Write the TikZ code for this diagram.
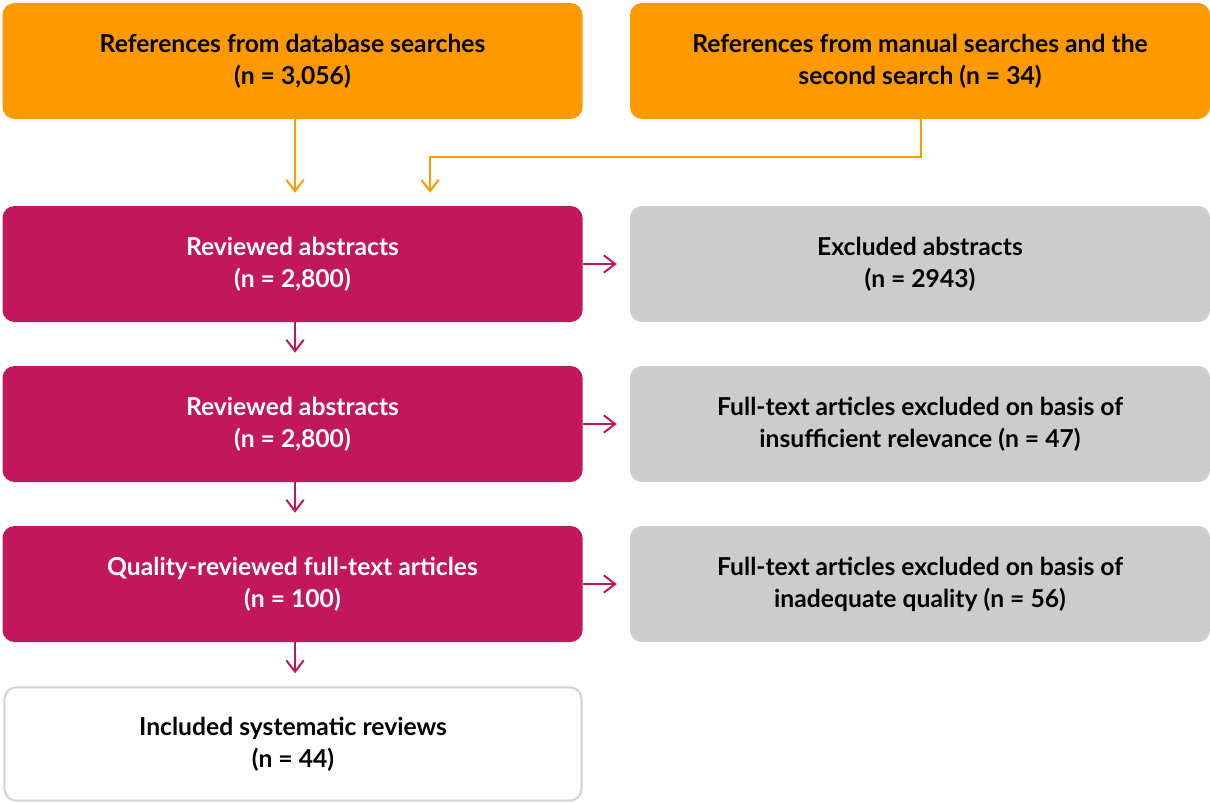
\documentclass[tikz,border=0pt]{standalone}
\usepackage{fontspec}
\setmainfont{Lato}
\usetikzlibrary{arrows.meta}
\definecolor{srcorange}{HTML}{FF9900}
\definecolor{revmagenta}{HTML}{C2185B}
\definecolor{exgrey}{HTML}{CCCCCC}
\definecolor{inborder}{HTML}{D2D2D2}
\tikzset{
  box/.style={rounded corners=9pt, minimum width=435pt, minimum height=87pt,
    align=center, inner sep=0pt, font=\fontsize{18.5}{24}\selectfont\bfseries,
    execute at begin node=\rule{0pt}{22pt}},
  srcbox/.style={box, fill=srcorange, text=black},
  revbox/.style={box, fill=revmagenta, text=white},
  exbox/.style={box, fill=exgrey, text=black},
  inbox/.style={box, draw=inborder, line width=1.5pt, fill=white,
    minimum width=433pt, minimum height=85pt},
  flow/.style={-{Straight Barb[length=8.5pt,width=13pt]}, line width=1.5pt,
    shorten >=9.75pt}
}
\begin{document}
\begin{tikzpicture}[x=0.75pt,y=-0.75pt]
  \useasboundingbox (0,0) rectangle (1210,803);

  % sources
  \node[srcbox] (db) at (292.5,61) {References from database searches\\(n = 3,056)};
  \node[srcbox] (manual) at (920,61) {References from manual searches and the\\second search (n = 34)};

  % screening
  \node[revbox] (abs) at (292.5,264) {Reviewed abstracts\\(n = 2,800)};
  \node[exbox] (exabs) at (920,264) {Excluded abstracts\\(n = 2943)};
  \node[revbox] (full) at (292.5,424) {Reviewed abstracts\\(n = 2,800)};
  \node[exbox] (exfull) at (920,424) {Full-text articles excluded on basis of\\insufficient relevance (n = 47)};
  \node[revbox] (qual) at (292.5,584) {Quality-reviewed full-text articles\\(n = 100)};
  \node[exbox] (exqual) at (920,584) {Full-text articles excluded on basis of\\inadequate quality (n = 56)};
  \node[inbox] (incl) at (293,744) {Included systematic reviews\\(n = 44)};

  % connectors
  \coordinate (bend) at (921,157);
  \draw[flow,srcorange] (db.south -| 295,0) -- (abs.north -| 295,0);
  \draw[flow,srcorange] (manual.south -| bend) -- (bend) -| (abs.north -| 430,0);
  \draw[flow,revmagenta] (abs.south -| 295,0) -- (full.north -| 295,0);
  \draw[flow,revmagenta] (full.south -| 295,0) -- (qual.north -| 295,0);
  \draw[flow,revmagenta] (qual.south -| 295,0) -- (incl.north -| 295,0);
  \draw[flow,revmagenta] (abs.east) -- (exabs.west);
  \draw[flow,revmagenta] (full.east) -- (exfull.west);
  \draw[flow,revmagenta] (qual.east) -- (exqual.west);
\end{tikzpicture}
\end{document}
